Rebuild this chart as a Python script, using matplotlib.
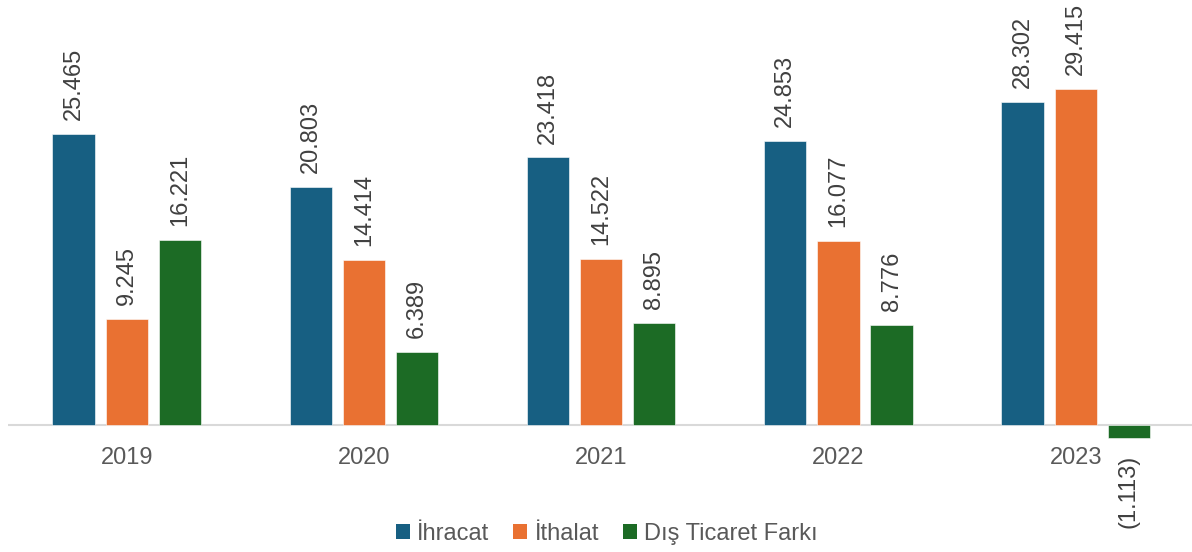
import numpy as np
import matplotlib
matplotlib.use('Agg')
import matplotlib.pyplot as plt
from matplotlib.patches import Patch

# veriler
years = ['2019', '2020', '2021', '2022', '2023']
ihracat = [25.465, 20.803, 23.418, 24.853, 28.302]
ithalat = [9.245, 14.414, 14.522, 16.077, 29.415]
fark = [16.221, 6.389, 8.895, 8.776, -1.113]

series_names = ['İhracat', 'İthalat', 'Dış Ticaret Farkı']
colors = ['#175f82', '#e97132', '#1c6b25']

plt.rcParams['font.family'] = ['Liberation Sans', 'DejaVu Sans']


def fmt(v):
    s = f"{abs(v):.3f}"
    return f"({s})" if v < 0 else s


fig = plt.figure(figsize=(11.92, 5.52), dpi=100)
ax = fig.add_axes([8 / 1192, (552 - 443) / 552, 1 - 8 / 1192, (443 - 5) / 552])

x = np.arange(len(years))
pitch = 0.224
width = 0.178

for i, (vals, c) in enumerate(zip([ihracat, ithalat, fark], colors)):
    pos = x + (i - 1) * pitch
    bars = ax.bar(pos, vals, width, color=c, edgecolor='white', linewidth=0.4, zorder=2)
    for b, v in zip(bars, vals):
        if v >= 0:
            ax.annotate(fmt(v), (b.get_x() + b.get_width() / 2, v),
                        xytext=(0, 10), textcoords='offset points',
                        rotation=90, ha='center', va='bottom',
                        fontsize=17, color='#404040')
        else:
            ax.annotate(fmt(v), (b.get_x() + b.get_width() / 2, v),
                        xytext=(0, -12), textcoords='offset points',
                        rotation=90, ha='center', va='top',
                        fontsize=17, color='#404040')

px_per_unit = 291 / 25.465
ax.set_ylim(-18 / px_per_unit, 420 / px_per_unit)
ax.set_xlim(-0.5, 4.49)
ax.axhline(0, color='#d9d9d9', linewidth=1.5, zorder=1)

for s in ax.spines.values():
    s.set_visible(False)
ax.set_yticks([])
ax.set_xticks(x)
ax.set_xticklabels(years, fontsize=17, color='#595959')
ax.tick_params(axis='x', length=0, pad=3)

handles = [Patch(facecolor=c, edgecolor='none') for c in colors]
leg = fig.legend(handles, series_names, loc='center', bbox_to_anchor=(0.509, (552 - 534) / 552),
                 ncol=3, frameon=False, fontsize=17, handlelength=0.6, handleheight=0.6,
                 handletextpad=0.3, columnspacing=1.0, labelcolor='#595959')

fig.savefig('out.png', dpi=100)
